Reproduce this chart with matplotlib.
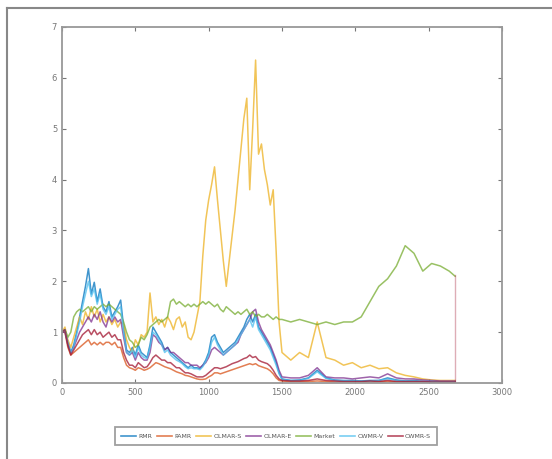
import matplotlib
matplotlib.use("Agg")
import matplotlib.pyplot as plt
from matplotlib.lines import Line2D

# sample days (x axis): every 20 days up to 1480, then every 60, plus the last day
days = list(range(0, 1500, 20)) + list(range(1500, 2680, 60)) + [2680]

labels = ['RMR', 'PAMR', 'OLMAR-S', 'OLMAR-E', 'Market', 'CWMR-V', 'CWMR-S']
colors = ['#0072BD', '#D95319', '#EDB120', '#7E2F8E', '#77AC30', '#4DBEEE', '#A2142F']

rmr = [1.0, 1.05, 0.8, 0.6, 0.75, 1.0, 1.3, 1.6, 1.9, 2.25,          # 0-180
       1.75, 1.98, 1.6, 1.85, 1.5, 1.4, 1.6, 1.3, 1.4, 1.5,          # 200-380
       1.63, 1.1, 0.65, 0.6, 0.7, 0.55, 0.75, 0.6, 0.55, 0.5,        # 400-580
       0.75, 1.1, 1.0, 0.9, 0.8, 0.65, 0.7, 0.6, 0.55, 0.5,          # 600-780
       0.45, 0.4, 0.35, 0.3, 0.35, 0.3, 0.3, 0.28, 0.35, 0.45,       # 800-980
       0.6, 0.9, 0.95, 0.8, 0.7, 0.6, 0.65, 0.7, 0.75, 0.8,          # 1000-1180
       0.9, 1.0, 1.1, 1.25, 1.35, 1.2, 1.35, 1.1, 1.0, 0.9,          # 1200-1380
       0.8, 0.7, 0.55, 0.4, 0.2,                                     # 1400-1480
       0.08, 0.05, 0.06, 0.1, 0.25, 0.1, 0.06, 0.05, 0.05, 0.04,
       0.05, 0.05, 0.1, 0.06, 0.04, 0.05, 0.03, 0.03, 0.02, 0.02, 0.02]

cwmr_v = [1.0, 1.05, 0.8, 0.6, 0.7, 0.95, 1.2, 1.5, 1.75, 2.0,
          1.7, 1.85, 1.55, 1.75, 1.45, 1.35, 1.5, 1.25, 1.35, 1.45,
          1.5, 1.0, 0.6, 0.55, 0.65, 0.5, 0.7, 0.55, 0.5, 0.48,
          0.7, 1.0, 0.95, 0.85, 0.75, 0.6, 0.65, 0.55, 0.5, 0.45,
          0.42, 0.38, 0.32, 0.28, 0.3, 0.28, 0.28, 0.26, 0.32, 0.42,
          0.55, 0.8, 0.9, 0.75, 0.65, 0.55, 0.6, 0.65, 0.7, 0.75,
          0.85, 0.95, 1.05, 1.15, 1.25, 1.1, 1.3, 1.05, 0.95, 0.85,
          0.75, 0.65, 0.5, 0.35, 0.18,
          0.07, 0.05, 0.05, 0.09, 0.22, 0.09, 0.05, 0.04, 0.04, 0.04,
          0.04, 0.05, 0.08, 0.05, 0.04, 0.04, 0.03, 0.03, 0.02, 0.02, 0.02]

olmar_e = [1.0, 1.0, 0.75, 0.6, 0.7, 0.85, 1.0, 1.1, 1.2, 1.3,
           1.2, 1.35, 1.25, 1.4, 1.2, 1.1, 1.3, 1.2, 1.3, 1.2,
           1.25, 0.9, 0.6, 0.55, 0.6, 0.45, 0.6, 0.5, 0.45, 0.45,
           0.6, 0.95, 0.9, 0.8, 0.75, 0.65, 0.7, 0.6, 0.6, 0.55,
           0.5, 0.45, 0.4, 0.4, 0.35, 0.35, 0.35, 0.3, 0.35, 0.4,
           0.5, 0.65, 0.7, 0.65, 0.6, 0.55, 0.6, 0.65, 0.7, 0.75,
           0.8, 0.95, 1.05, 1.15, 1.25, 1.4, 1.45, 1.2, 1.05, 0.95,
           0.85, 0.75, 0.6, 0.45, 0.25,
           0.12, 0.1, 0.1, 0.15, 0.3, 0.12, 0.1, 0.1, 0.08, 0.1,
           0.12, 0.1, 0.18, 0.1, 0.08, 0.08, 0.06, 0.05, 0.04, 0.04, 0.04]

cwmr_s = [1.0, 1.05, 0.75, 0.55, 0.65, 0.75, 0.85, 0.95, 1.0, 1.05,
          0.95, 1.05, 0.95, 1.0, 0.9, 0.95, 1.0, 0.9, 0.95, 0.85,
          0.85, 0.6, 0.45, 0.35, 0.35, 0.3, 0.4, 0.35, 0.3, 0.32,
          0.4, 0.5, 0.55, 0.5, 0.45, 0.45, 0.4, 0.4, 0.35, 0.3,
          0.3, 0.25, 0.2, 0.2, 0.18, 0.15, 0.12, 0.12, 0.12, 0.15,
          0.2, 0.25, 0.3, 0.3, 0.28, 0.3, 0.32, 0.35, 0.38, 0.4,
          0.42, 0.45, 0.48, 0.5, 0.55, 0.5, 0.52, 0.45, 0.42, 0.4,
          0.38, 0.33, 0.25, 0.15, 0.08,
          0.05, 0.04, 0.04, 0.05, 0.08, 0.05, 0.04, 0.03, 0.03, 0.03,
          0.04, 0.03, 0.05, 0.03, 0.03, 0.03, 0.03, 0.02, 0.02, 0.02, 0.02]
cwmr_s_last = 2.12  # closing point drawn at the last day

pamr = [1.0, 1.0, 0.7, 0.55, 0.6, 0.65, 0.7, 0.75, 0.8, 0.85,
        0.75, 0.8, 0.75, 0.8, 0.75, 0.8, 0.8, 0.75, 0.8, 0.7,
        0.7, 0.5, 0.35, 0.3, 0.28, 0.25, 0.3, 0.28, 0.25, 0.27,
        0.3, 0.35, 0.4, 0.38, 0.35, 0.32, 0.3, 0.28, 0.25, 0.22,
        0.2, 0.18, 0.15, 0.14, 0.12, 0.1, 0.08, 0.07, 0.07, 0.08,
        0.12, 0.15, 0.2, 0.2, 0.18, 0.2, 0.22, 0.24, 0.26, 0.28,
        0.3, 0.32, 0.34, 0.36, 0.38, 0.36, 0.38, 0.34, 0.32, 0.3,
        0.28, 0.24, 0.18, 0.1, 0.05,
        0.04, 0.03, 0.03, 0.03, 0.04, 0.03, 0.02, 0.02, 0.02, 0.02,
        0.02, 0.02, 0.03, 0.02, 0.02, 0.02, 0.02, 0.01, 0.01, 0.01, 0.01]

olmar_s = [1.0, 1.1, 0.85, 0.7, 0.9, 1.1, 1.3, 1.15, 1.4, 1.25,
           1.5, 1.3, 1.45, 1.2, 1.35, 1.2, 1.3, 1.15, 1.25, 1.1,
           1.2, 1.15, 0.85, 0.7, 0.6, 0.85, 0.75, 0.95, 0.9, 1.0,
           1.77, 1.2, 1.3, 1.15, 1.25, 1.1, 1.3, 1.2, 1.05, 1.25,
           1.3, 1.1, 1.2, 0.9, 0.85, 1.0, 1.3, 1.6, 2.5, 3.2,
           3.6, 3.9, 4.25, 3.6, 3.0, 2.4, 1.9, 2.4, 2.9, 3.4,
           4.0, 4.6, 5.2, 5.6, 3.8, 5.0, 6.35, 4.5, 4.7, 4.2,
           3.9, 3.5, 3.8, 2.6, 1.2,
           0.6, 0.45, 0.6, 0.5, 1.2, 0.5, 0.45, 0.35, 0.4, 0.3,
           0.35, 0.28, 0.3, 0.2, 0.15, 0.12, 0.08, 0.06, 0.05, 0.05, 0.05]

market = [1.0, 1.05, 0.9, 1.0, 1.3, 1.4, 1.45, 1.4, 1.45, 1.5,
          1.4, 1.5, 1.45, 1.5, 1.55, 1.5, 1.55, 1.5, 1.45, 1.4,
          1.35, 1.2, 1.0, 0.85, 0.8, 0.7, 0.75, 0.9, 0.85, 0.95,
          1.1, 1.15, 1.2, 1.25, 1.2, 1.25, 1.3, 1.6, 1.65, 1.55,
          1.6, 1.55, 1.5, 1.55, 1.5, 1.55, 1.5, 1.55, 1.6, 1.55,
          1.6, 1.55, 1.5, 1.55, 1.45, 1.4, 1.5, 1.45, 1.4, 1.35,
          1.4, 1.35, 1.4, 1.45, 1.35, 1.4, 1.3, 1.35, 1.3, 1.3,
          1.35, 1.3, 1.25, 1.3, 1.25,
          1.25, 1.2, 1.25, 1.2, 1.15, 1.2, 1.15, 1.2, 1.2, 1.3,
          1.6, 1.9, 2.05, 2.3, 2.7, 2.55, 2.2, 2.35, 2.3, 2.2, 2.1]

series = [rmr, pamr, olmar_s, olmar_e, market, cwmr_v, cwmr_s]

fig = plt.figure(figsize=(5.52, 4.59), dpi=100)
ax = fig.add_axes([62 / 552, 76 / 459, 440 / 552, 356 / 459])

for vals, col in zip(series, colors):
    ax.plot(days, vals, color=col, lw=1.1, alpha=0.75)
# closing segment of CWMR-S is drawn faint in the original
ax.plot([days[-1], days[-1]], [cwmr_s[-1], cwmr_s_last], color=colors[6], lw=1.0, alpha=0.35)

ax.set_xlim(0, 3000)
ax.set_ylim(0, 7)
ax.set_xticks(range(0, 3001, 500))
ax.set_yticks(range(0, 8))
ax.tick_params(direction='in', top=True, right=True, labelsize=6,
               colors='#777777', length=3)
for s in ax.spines.values():
    s.set_color('#999999')
    s.set_linewidth(1.3)

handles = [Line2D([], [], color=c, lw=1.2, alpha=0.75) for c in colors]
leg = fig.legend(handles, labels, loc='center', bbox_to_anchor=(0.5, 1 - 436 / 459),
                 ncol=7, fontsize=4.5, handlelength=2.4, columnspacing=0.7,
                 handletextpad=0.4, frameon=True, fancybox=False, borderpad=1.0,
                 borderaxespad=0)
leg.get_frame().set_edgecolor('#888888')
leg.get_frame().set_linewidth(1.3)
for t in leg.get_texts():
    t.set_color('#555555')

# outer frame (left and top edges visible)
fig.add_artist(Line2D([7 / 552, 7 / 552], [0, 1 - 8 / 459], color='#888888', lw=1.5))
fig.add_artist(Line2D([7 / 552, 1], [1 - 8 / 459, 1 - 8 / 459], color='#888888', lw=1.5))

fig.savefig('out.png', dpi=100)
